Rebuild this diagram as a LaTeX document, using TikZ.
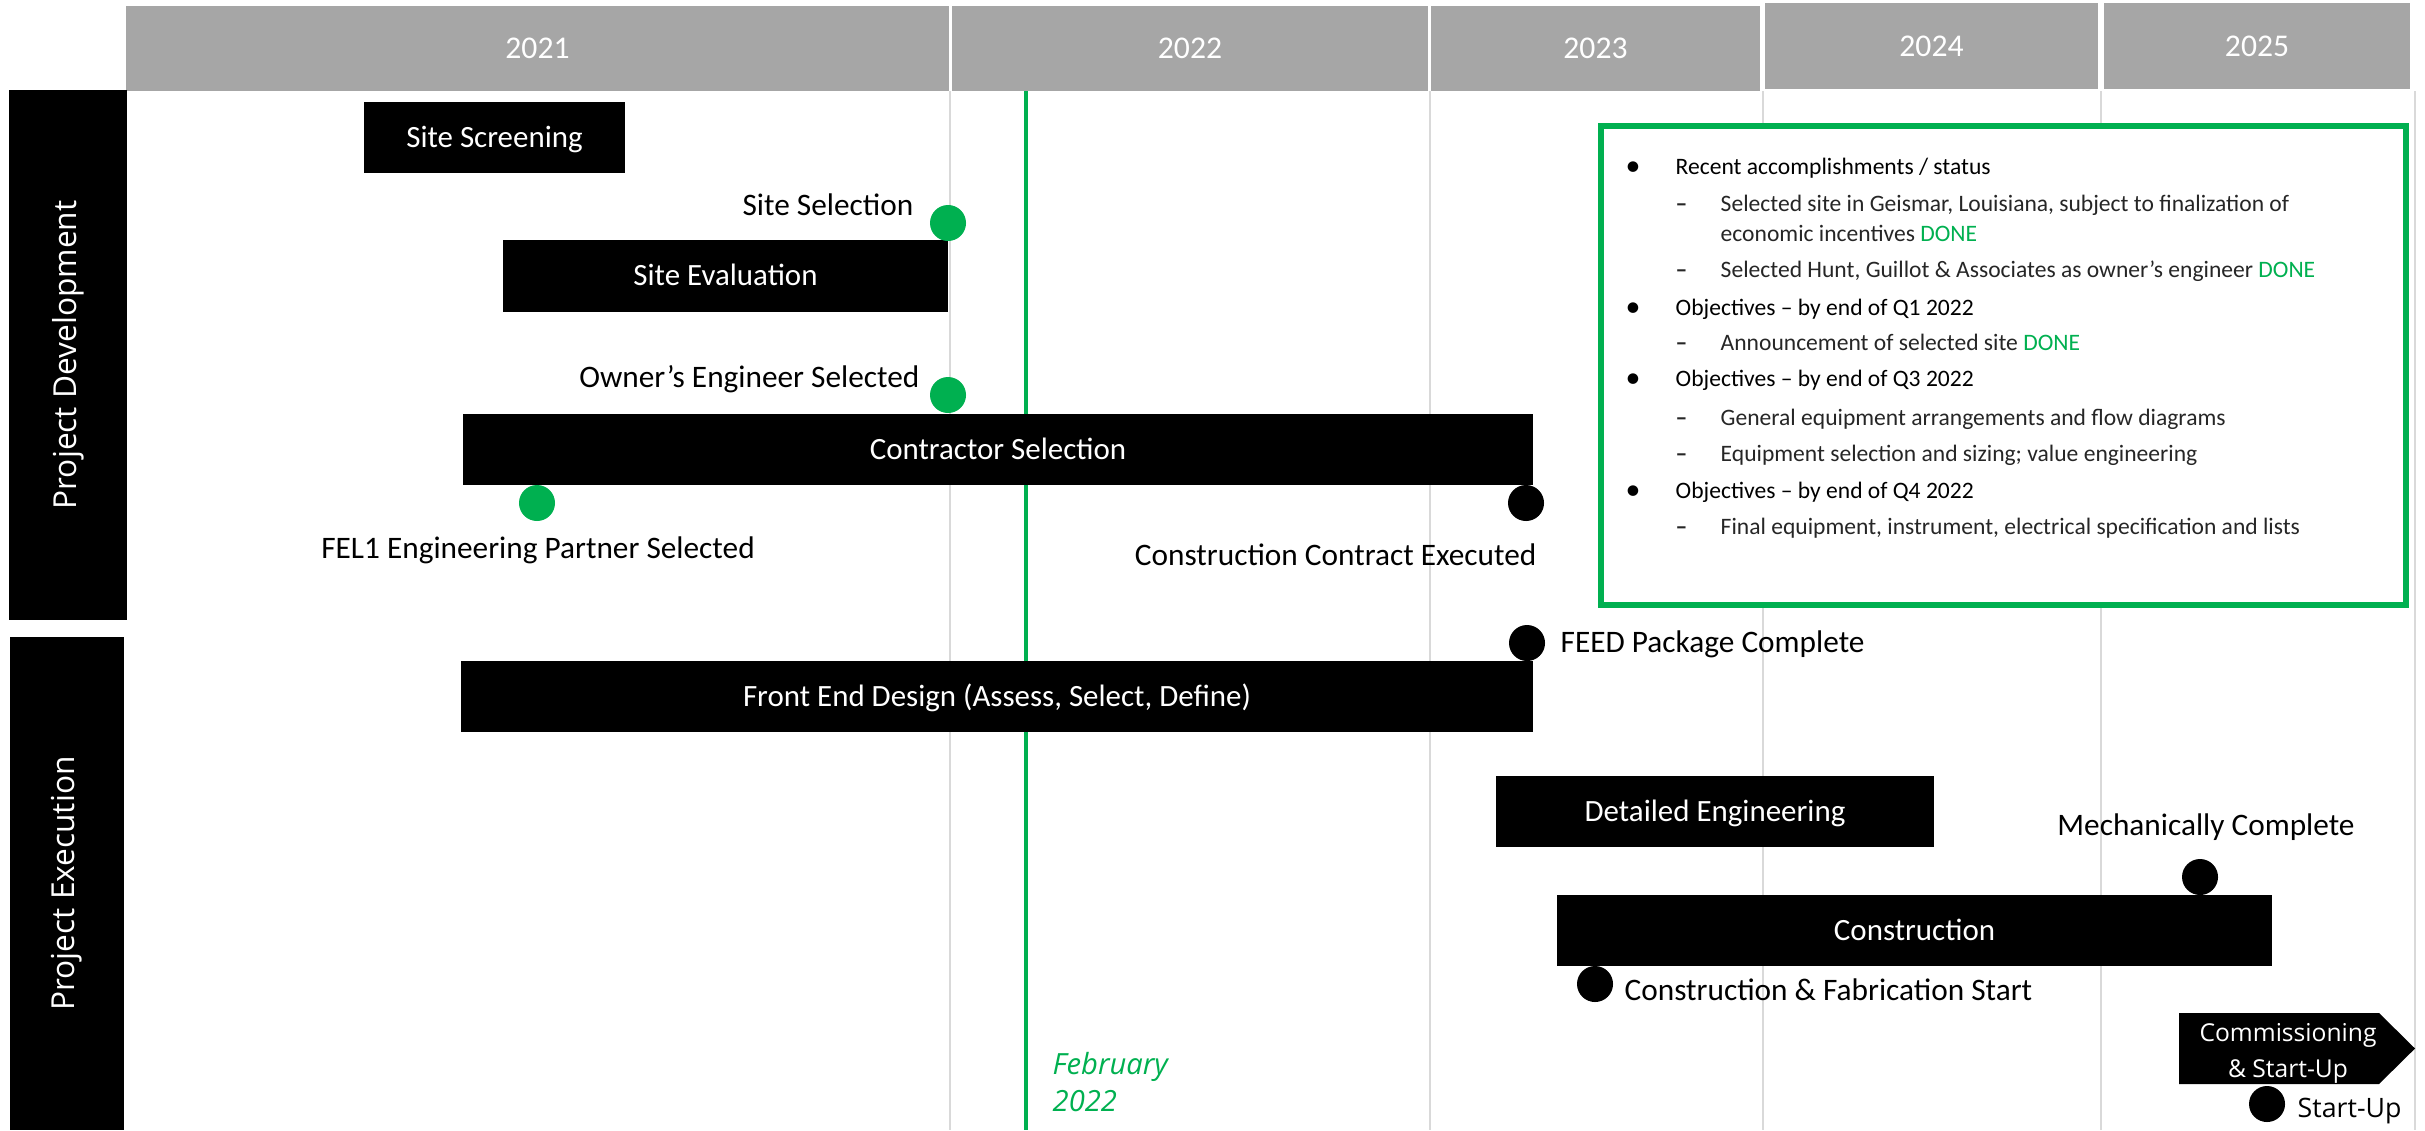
\documentclass[tikz,border=0pt]{standalone}
\usepackage{fontspec}
\setmainfont{Carlito}
\newfontfamily\segoe{Open Sans}
\usepackage{tikz}
\usepackage{xcolor}
\usetikzlibrary{positioning}
\definecolor{hdrgray}{HTML}{A6A6A6}
\definecolor{ongreen}{HTML}{00B050}
\definecolor{gridgray}{HTML}{D9D9D9}
\definecolor{subgray}{HTML}{262626}
\tikzset{
	yearcell/.style={fill=hdrgray, text=white, inner sep=0pt, minimum height=0.85cm, font=\fontsize{9}{11}\selectfont},
	phase/.style={fill=black, text=white, inner sep=0pt, rotate=90, font=\segoe\fontsize{9}{11}\selectfont},
	taskbar/.style={fill=black, text=white, inner sep=0pt, minimum height=0.71cm, text height=1.45ex, text depth=0.3ex, font=\fontsize{8.8}{10.5}\selectfont},
	gridline/.style={gridgray, line width=0.6pt},
	greenms/.style={circle, fill=ongreen, inner sep=0pt, minimum size=0.36cm},
	blackms/.style={circle, fill=black, inner sep=0pt, minimum size=0.36cm},
	mstext/.style={inner sep=0pt, font=\fontsize{8.9}{10.5}\selectfont},
	boxhead/.style={inner sep=0pt, anchor=base west, font=\fontsize{6.7}{8}\selectfont},
	boxsub/.style={inner sep=0pt, anchor=base west, text=subgray, font=\fontsize{6.7}{8}\selectfont},
	boxdot/.style={inner sep=0pt, anchor=base, font=\fontsize{8.5}{8}\selectfont},
}
\begin{document}
\begin{tikzpicture}[x=0.01cm, y=-0.01cm]
	\useasboundingbox (0,0) rectangle (2425,1130);
	\foreach \gx in {950,1430,1763,2101,2415}
		\draw[gridline] (\gx,91) -- (\gx,1130);
	\draw[ongreen, line width=0.9pt] (1026,91) -- (1026,1130);
	\node[text=ongreen, anchor=north west, align=left, inner sep=0pt, font=\segoe\itshape\fontsize{8.3}{10.5}\selectfont] (today) at (1052,1052) {February\\2022};

	\node[yearcell, minimum width=8.23cm] (y21) at (537.5,48.5) {2021};
	\node[yearcell, minimum width=4.76cm] (y22) at (1190,48.5) {2022};
	\node[yearcell, minimum width=3.29cm] (y23) at (1595.5,48.5) {2023};
	\node[yearcell, minimum width=3.33cm, minimum height=0.86cm] (y24) at (1931.5,46) {2024};
	\node[yearcell, minimum width=3.06cm, minimum height=0.86cm] (y25) at (2257,46) {2025};

	\node[phase, minimum width=5.30cm, minimum height=1.18cm] (dev) at (68,355) {Project Development};
	\node[phase, minimum width=4.93cm, minimum height=1.14cm] (exe) at (67,883.5) {Project Execution};

	\node[taskbar, minimum width=2.61cm] (screen) at (494.5,137.5) {Site Screening};
	\node[taskbar, minimum width=4.45cm] (evaluate) at (725.5,276) {Site Evaluation};
	\node[taskbar, minimum width=10.70cm] (contractor) at (998,449.5) {Contractor Selection};
	\node[taskbar, minimum width=10.72cm] (frontend) at (997,696.5) {Front End Design (Assess, Select, Define)};
	\node[taskbar, minimum width=4.38cm] (detailed) at (1715,811.5) {Detailed Engineering};
	\node[taskbar, minimum width=7.15cm] (construct) at (1914.5,930.5) {Construction};
	\fill (2179,1013) -- (2379,1013) -- (2415,1048.5) -- (2379,1084) -- (2179,1084) -- cycle;
	\node[text=white, align=center, inner sep=0pt, font=\segoe\fontsize{7}{10.2}\selectfont] (commission) at (2288,1053) {Commissioning\\\& Start-Up};

	\node[greenms] (sitesel) at (948,223) {};
	\node[mstext, anchor=base east] (sitesellbl) at (914,215) {Site Selection};
	\node[greenms] (ownereng) at (948,395) {};
	\node[mstext, anchor=base east] (ownerenglbl) at (920,387) {Owner’s Engineer Selected};
	\node[greenms] (fel) at (537,503) {};
	\node[mstext, anchor=base] (fellbl) at (538,558) {FEL1 Engineering Partner Selected};
	\node[blackms] (contract) at (1526,503) {};
	\node[mstext, anchor=base east] (contractlbl) at (1537,565) {Construction Contract Executed};
	\node[blackms] (feed) at (1527,643) {};
	\node[mstext, anchor=base west] (feedlbl) at (1560,652) {FEED Package Complete};
	\node[blackms] (mech) at (2200,877) {};
	\node[mstext, anchor=base] (mechlbl) at (2206,835) {Mechanically Complete};
	\node[blackms] (fabstart) at (1595,984) {};
	\node[mstext, anchor=base west] (fabstartlbl) at (1624,1000) {Construction \& Fabrication Start};
	\node[blackms] (startup) at (2267,1104) {};
	\node[mstext, anchor=base west, font=\segoe\fontsize{7.6}{9}\selectfont] (startuplbl) at (2297,1117) {Start-Up};

	\node[draw=ongreen, line width=1.8pt, fill=white, minimum width=8.05cm, minimum height=4.79cm] (status) at (2003.5,365.5) {};
	\node[boxdot] (dot1) at (1633,175) {•};
	\node[boxhead] (head1) at (1675,174) {Recent accomplishments / status};
	\node[boxsub] (dash1) at (1675,211) {\textbf{–}};
	\node[boxsub] (sub1) at (1720,211) {Selected site in Geismar, Louisiana, subject to finalization of};
	\node[boxsub] (sub1b) at (1720,241) {economic incentives \textcolor{ongreen}{DONE}};
	\node[boxsub] (dash2) at (1675,277) {\textbf{–}};
	\node[boxsub] (sub2) at (1720,277) {Selected Hunt, Guillot \& Associates as owner’s engineer \textcolor{ongreen}{DONE}};
	\node[boxdot] (dot2) at (1633,316) {•};
	\node[boxhead] (head2) at (1675,315) {Objectives – by end of Q1 2022};
	\node[boxsub] (dash3) at (1675,350) {\textbf{–}};
	\node[boxsub] (sub3) at (1720,350) {Announcement of selected site \textcolor{ongreen}{DONE}};
	\node[boxdot] (dot3) at (1633,387) {•};
	\node[boxhead] (head3) at (1675,386) {Objectives – by end of Q3 2022};
	\node[boxsub] (dash4) at (1675,425) {\textbf{–}};
	\node[boxsub] (sub4) at (1720,425) {General equipment arrangements and flow diagrams};
	\node[boxsub] (dash5) at (1675,461) {\textbf{–}};
	\node[boxsub] (sub5) at (1720,461) {Equipment selection and sizing; value engineering};
	\node[boxdot] (dot4) at (1633,499) {•};
	\node[boxhead] (head4) at (1675,498) {Objectives – by end of Q4 2022};
	\node[boxsub] (dash6) at (1675,534) {\textbf{–}};
	\node[boxsub] (sub6) at (1720,534) {Final equipment, instrument, electrical specification and lists};
\end{tikzpicture}
\end{document}
